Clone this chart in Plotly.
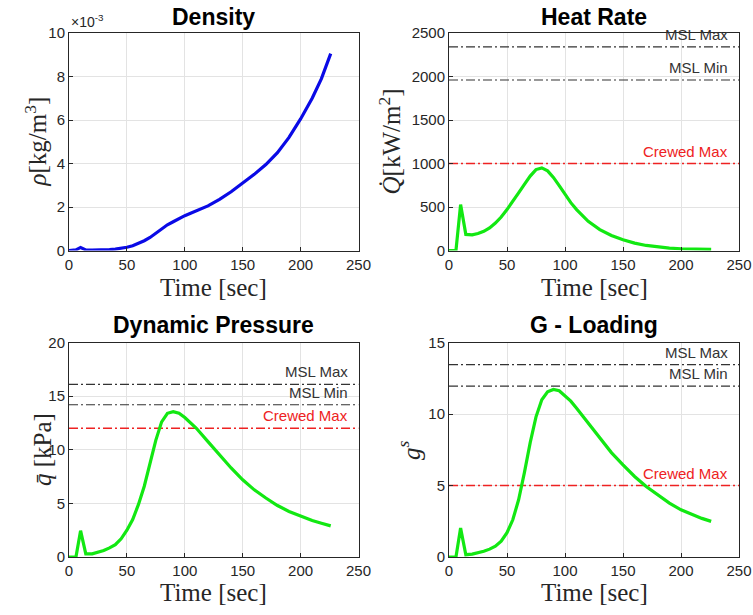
import plotly.graph_objects as go
from plotly.subplots import make_subplots

# ---------------- data ----------------
time_s = [0, 6, 10, 14.5, 20, 25, 30, 35, 40, 45, 50, 55, 60, 65, 70, 75, 80, 85, 90, 95,
          100, 105, 110, 120, 130, 140, 150, 160, 170, 180, 190, 200, 210, 218, 226]

density_e3 = [0, 0.03, 0.14, 0.03, 0.02, 0.02, 0.03, 0.04, 0.06, 0.1, 0.15, 0.22, 0.33, 0.45,
              0.6, 0.8, 1.02, 1.18, 1.32, 1.47, 1.6, 1.71, 1.82, 2.05, 2.35, 2.7, 3.1, 3.5,
              3.95, 4.5, 5.2, 6.05, 7.0, 7.9, 9.05]

heat_rate = [0, 0, 528, 185, 180, 195, 220, 260, 316, 385, 470, 560, 662, 760, 855, 930, 950,
             915, 840, 745, 643, 550, 470, 335, 240, 173, 123, 85, 58, 40, 28, 20, 17, 15, 14]

dyn_pressure = [0, 0, 2.45, 0.3, 0.3, 0.42, 0.6, 0.85, 1.15, 1.7, 2.5, 3.5, 4.9, 6.6, 8.7, 10.9,
                12.6, 13.4, 13.55, 13.4, 13.0, 12.5, 12.0, 10.76, 9.5, 8.3, 7.2, 6.26, 5.5, 4.8,
                4.25, 3.8, 3.4, 3.15, 2.9]

g_loading = [0, 0, 2.02, 0.16, 0.2, 0.28, 0.4, 0.55, 0.75, 1.1, 1.7, 2.6, 4.0, 5.9, 8.0, 9.8,
             11.0, 11.55, 11.72, 11.63, 11.3, 10.9, 10.4, 9.35, 8.3, 7.3, 6.44, 5.63, 4.93, 4.35,
             3.77, 3.3, 2.95, 2.7, 2.49]

panel_titles = ["Density", "Heat Rate", "Dynamic Pressure", "G - Loading"]

heat_limits = {"MSL Max": 2340, "MSL Min": 1960, "Crewed Max": 1000}
q_limits = {"MSL Max": 16.1, "MSL Min": 14.2, "Crewed Max": 12}
g_limits = {"MSL Max": 13.45, "MSL Min": 11.95, "Crewed Max": 5}

x_ticks = [0, 50, 100, 150, 200, 250]
x_range = [0, 250]

# ---------------- figure ----------------
W, H = 753, 615
SANS = "Liberation Sans, Arial, Helvetica, sans-serif"
SERIF = "Liberation Serif, Times New Roman, serif"
AX = "#262626"
GRID = "#e3e3e3"
GREEN = "#12e812"
RED = "#ee2222"

fig = make_subplots(rows=2, cols=2)

# reference (limit) lines first, so the data curves sit on top
def add_limits(limits, row, col):
    sx = "" if (row, col) == (1, 1) else str((row - 1) * 2 + col)
    for name, val in limits.items():
        is_red = name == "Crewed Max"
        color = RED if is_red else "#333333"
        fig.add_trace(go.Scatter(x=x_range, y=[val, val], mode="lines", hoverinfo="skip",
                                 line=dict(color=color, width=1.5 if is_red else 1.1,
                                           dash="9px,3px,2px,3px"),
                                 showlegend=False), row=row, col=col)
        fig.add_annotation(xref="x" + sx + " domain", yref="y" + sx, x=0.97, y=val,
                           xanchor="right", yanchor="bottom", yshift=2, showarrow=False,
                           text=name, font=dict(family=SANS, size=15, color=color))

add_limits(heat_limits, 1, 2)
add_limits(q_limits, 2, 1)
add_limits(g_limits, 2, 2)

fig.add_trace(go.Scatter(x=time_s, y=density_e3, mode="lines",
                         line=dict(color="#0a0ae6", width=3.2), showlegend=False), row=1, col=1)
fig.add_trace(go.Scatter(x=time_s, y=heat_rate, mode="lines",
                         line=dict(color=GREEN, width=3.2), showlegend=False), row=1, col=2)
fig.add_trace(go.Scatter(x=time_s, y=dyn_pressure, mode="lines",
                         line=dict(color=GREEN, width=3.2), showlegend=False), row=2, col=1)
fig.add_trace(go.Scatter(x=time_s, y=g_loading, mode="lines",
                         line=dict(color=GREEN, width=3.2), showlegend=False), row=2, col=2)

# pixel-based domains
def xd(a, b):
    return [a / W, b / W]

def yd(top, bottom):
    return [1 - bottom / H, 1 - top / H]

doms = {
    1: (xd(69, 358.5), yd(33, 250.5)),
    2: (xd(449, 739), yd(33, 250.5)),
    3: (xd(69, 358.5), yd(342.5, 557)),
    4: (xd(449, 739), yd(342.5, 557)),
}
yranges = {1: [0, 10], 2: [0, 2500], 3: [0, 20], 4: [0, 15]}
ydticks = {1: 2, 2: 500, 3: 5, 4: 5}

axis_common = dict(showline=True, mirror=True, linecolor=AX, linewidth=1,
                   showgrid=True, gridcolor=GRID, gridwidth=1,
                   ticks="inside", ticklen=4, tickcolor=AX, zeroline=False,
                   automargin=False,
                   tickfont=dict(family=SANS, size=15, color=AX))

for i in range(1, 5):
    sx = "" if i == 1 else str(i)
    fig.layout["xaxis" + sx].update(domain=doms[i][0], range=x_range, tickvals=x_ticks,
                                    **axis_common)
    fig.layout["yaxis" + sx].update(domain=doms[i][1], range=yranges[i], dtick=ydticks[i],
                                    tick0=0, **axis_common)

# titles
title_pos = [(213.5, 17), (594, 17), (213.5, 325), (594, 325)]
for t, (px, py) in zip(panel_titles, title_pos):
    fig.add_annotation(xref="paper", yref="paper", x=px / W, y=1 - py / H,
                       xanchor="center", yanchor="middle", showarrow=False,
                       text="<b>" + t + "</b>", font=dict(family=SANS, size=23, color="black"))

# x axis titles
for px, py in [(213.5, 287), (594, 287), (213.5, 592), (594, 592)]:
    fig.add_annotation(xref="paper", yref="paper", x=px / W, y=1 - py / H,
                       xanchor="center", yanchor="middle", showarrow=False,
                       text="Time [sec]", font=dict(family=SERIF, size=25, color=AX))

# y axis titles
ytitles = [
    ("<i>ρ</i>[kg/m<sup>3</sup>]", 35, 141.5),
    ("<i>Q̇</i>[kW/m<sup>2</sup>]", 389, 141.5),
    ("<i>q̄</i> [kPa]", 42, 450),
    ("<i>g</i><sup><i>s</i></sup>", 409, 450),
]
for txt, px, py in ytitles:
    fig.add_annotation(xref="paper", yref="paper", x=px / W, y=1 - py / H,
                       xanchor="center", yanchor="middle", showarrow=False, textangle=-90,
                       text=txt, font=dict(family=SERIF, size=25, color=AX))

# exponent label
fig.add_annotation(xref="paper", yref="paper", x=69 / W, y=1 - 32 / H,
                   xanchor="left", yanchor="bottom", showarrow=False,
                   text="×10<sup>-3</sup>", font=dict(family=SANS, size=14, color=AX))

fig.update_layout(width=W, height=H,
                  margin=dict(l=0, r=0, t=0, b=0, pad=0, autoexpand=False),
                  paper_bgcolor="white", plot_bgcolor="white", showlegend=False)

fig.write_html("out.html")
